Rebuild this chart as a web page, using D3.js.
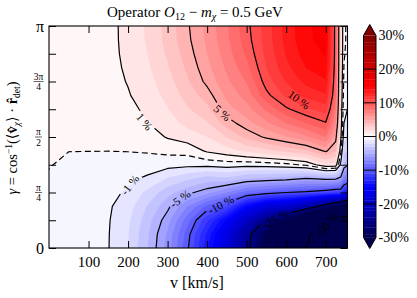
<!DOCTYPE html>
<html><head><meta charset="utf-8">
<script src="https://cdn.jsdelivr.net/npm/d3@7"></script>
<style>
body{margin:0;background:#fff}
text{font-family:"Liberation Serif","DejaVu Serif",serif;fill:#000}
</style></head>
<body><svg id="c" width="417" height="298"></svg>
<script>
// ---------------- data (percent modulation) ----------------
const vGrid = [0,50,100,150,200,250,300,350,400,450,500,550,600,650,700,725,738,746,755];
const gammaOverPi = [0,0.0625,0.125,0.1875,0.25,0.3125,0.375,0.4375,0.5,0.5625,0.625,0.6875,0.75,0.8125,0.875,0.9375,1];
// each column: values from gamma=0 (bottom) to gamma=pi (top)
const pct_v0   = [-0.3,-0.3,-0.29,-0.26,-0.21,-0.08,0.04,0.1,0.14,0.18,0.22,0.25,0.27,0.29,0.3,0.3,0.3];
const pct_v50  = [-0.45,-0.45,-0.44,-0.42,-0.38,-0.31,-0.15,0.01,0.1,0.18,0.26,0.32,0.37,0.41,0.44,0.45,0.45];
const pct_v100 = [-0.65,-0.65,-0.63,-0.6,-0.54,-0.45,-0.28,0.01,0.14,0.26,0.36,0.44,0.51,0.56,0.6,0.62,0.62];
const pct_v150 = [-0.96,-0.95,-0.92,-0.86,-0.77,-0.63,-0.4,0.01,0.2,0.36,0.49,0.59,0.67,0.73,0.77,0.79,0.8];
const pct_v200 = [-2.0,-1.95,-1.8,-1.55,-1.12,-0.82,-0.45,0.03,0.3,0.55,0.75,0.93,1.05,1.13,1.18,1.2,1.2];
const pct_v250 = [-4.0,-3.9,-3.6,-3.1,-2.3,-1.15,-0.6,0.12,0.55,0.98,1.2,1.45,1.67,1.86,2.02,2.14,2.2];
const pct_v300 = [-6.4,-6.2,-5.6,-4.7,-3.6,-2.1,-0.6,0.25,1.08,1.55,1.95,2.3,2.6,2.9,3.15,3.33,3.4];
const pct_v350 = [-9.8,-9.5,-8.6,-7.0,-4.7,-2.8,-0.7,0.35,1.5,2.3,2.9,3.4,3.85,4.2,4.5,4.75,4.85];
const pct_v400 = [-13.7,-13.3,-11.8,-9.3,-5.6,-3.5,-0.65,1.15,2.0,2.9,3.7,4.5,5.3,5.7,6.0,6.2,6.3];
const pct_v450 = [-18.4,-17.4,-15.2,-11.0,-7.0,-3.2,-0.5,1.6,3.05,4.5,5.6,6.3,6.8,7.2,7.55,7.8,7.9];
const pct_v500 = [-23.9,-23.5,-20.0,-15.0,-8.6,-4.0,-0.6,2.2,4.3,5.6,6.6,7.4,8.1,8.7,9.2,9.55,9.7];
const pct_v550 = [-31.2,-30.0,-25.5,-18.0,-9.3,-4.3,-0.5,2.7,5.2,6.8,8.2,9.7,10.5,11.0,11.3,11.45,11.5];
const pct_v600 = [-40,-38,-30,-19,-10,-4.5,-0.3,3.3,5.9,8.0,9.8,11.2,12.1,12.7,13.1,13.35,13.4];
const pct_v650 = [-50,-47,-38,-22,-10.3,-5.1,0.2,3.8,6.8,9.0,10.8,12.3,13.3,14.0,14.5,14.75,14.8];
const pct_v700 = [-62,-59,-48,-27,-11,-4.7,1.8,5.2,8.0,9.9,11.5,12.9,13.9,14.6,15.1,15.4,15.5];
const pct_v725 = [-68,-64,-52,-30,-11.5,-4.8,1.6,4.0,5.5,7.0,8.0,8.7,9.0,9.2,9.3,9.3,9.3];
const pct_v738 = [-72,-67,-54,-31,-11.5,-5.5,-1.3,0.3,1.2,1.6,1.8,2.0,2.1,2.2,2.2,2.2,2.2];
const pct_v746 = [-75,-70,-56,-33,-13,-7.5,-4.2,-2.6,-1.6,-1.0,-0.7,-0.45,-0.25,-0.05,0.1,0.2,0.2];
const pct_v755 = [-76,-71,-57,-34,-14,-8,-4.8,-3.0,-2.0,-1.4,-1.0,-0.7,-0.5,-0.35,-0.25,-0.2,-0.2];
const columns = [pct_v0,pct_v50,pct_v100,pct_v150,pct_v200,pct_v250,pct_v300,pct_v350,pct_v400,
  pct_v450,pct_v500,pct_v550,pct_v600,pct_v650,pct_v700,pct_v725,pct_v738,pct_v746,pct_v755];

const lineLevels = [-50,-25,-10,-5,-1,0,1,5,10];
const contourLabels = [
  {text:"1 %",  v:241, g:0.568, rot:50},
  {text:"5 %",  v:438, g:0.608, rot:42},
  {text:"10 %", v:632, g:0.667, rot:36},
  {text:"-1 %", v:205, g:0.284, rot:-52},
  {text:"-5 %", v:332, g:0.221, rot:-36},
  {text:"-10 %",v:435, g:0.194, rot:-28},
  {text:"-25 %",v:574, g:0.131, rot:-30},
  {text:"-50 %",v:703, g:0.104, rot:-50}
];
const xTicks = [100,200,300,400,500,600,700];
const yTicksOverPi = [0,0.125,0.25,0.375,0.5,0.625,0.75,0.875,1];
const yLabels = [{g:0,num:"0"},{g:0.25,num:"π",den:"4"},{g:0.5,num:"π",den:"2"},{g:0.75,num:"3π",den:"4"},{g:1,num:"π"}];
const cbTicks = [-30,-20,-10,0,10,20,30];
const cbTickLabels = ["-30%","-20%","-10%","0%","10%","20%","30%"];

// ---------------- layout ----------------
const L=49, R=347.5, T=26, B=248;
const svg = d3.select("#c");
const x = d3.scaleLinear().domain([0,755]).range([L,R]);
const y = d3.scaleLinear().domain([0,Math.PI]).range([B,T]);
const seismic = d3.scaleLinear().domain([0,0.25,0.5,0.75,1])
  .range(["rgb(0,0,77)","rgb(0,0,255)","rgb(255,255,255)","rgb(255,0,0)","rgb(128,0,0)"]).clamp(true);
const vmin=-30, vmax=30;
const bandColor = t => seismic(((t+0.5)-vmin)/(vmax-vmin));

const n = vGrid.length, m = gammaOverPi.length;
const values = new Array(n*m);
for (let j=0;j<m;j++) for (let i=0;i<n;i++) values[j*n+i] = columns[i][j];
const idxX = d3.scaleLinear().domain(d3.range(n)).range(vGrid).clamp(true);
const idxY = d3.scaleLinear().domain(d3.range(m)).range(gammaOverPi.map(g=>g*Math.PI)).clamp(true);
const PX = c => x(idxX(c-0.5));
const PY = c => y(idxY(c-0.5));

svg.append("clipPath").attr("id","plotclip").append("rect")
  .attr("x",L).attr("y",T).attr("width",R-L).attr("height",B-T);

// ---------------- filled contours ----------------
const fillLevels = [-1e9].concat(d3.range(vmin, vmax+1, 1));
const proj = d3.geoTransform({point:function(a,b){this.stream.point(PX(a),PY(b));}});
const path = d3.geoPath(proj);
const contourGen = d3.contours().size([n,m]);
const gFill = svg.append("g").attr("clip-path","url(#plotclip)");
fillLevels.forEach(t=>{
  const c = contourGen.contour(values, t);
  let col;
  if (t < vmin) col = seismic(0); else if (t >= vmax) col = seismic(1); else col = bandColor(t);
  gFill.append("path").attr("d", path(c)).attr("fill", col).attr("stroke","none");
});

// ---------------- contour lines ----------------
const eps=1e-6;
const isB = p => p[0] <= 0.5+eps || p[0] >= n-0.5-eps || p[1] <= 0.5+eps || p[1] >= m-0.5-eps;
function linePath(level){
  const c = contourGen.contour(values, level);
  let d="";
  c.coordinates.forEach(poly=>poly.forEach(ring=>{
    let pen=false;
    for (let k=0;k<ring.length-1;k++){
      const a=ring[k], b=ring[k+1];
      if (isB(a)&&isB(b)){pen=false;continue;}
      if(!pen){d+="M"+PX(a[0]).toFixed(2)+","+PY(a[1]).toFixed(2);pen=true;}
      d+="L"+PX(b[0]).toFixed(2)+","+PY(b[1]).toFixed(2);
    }
  }));
  return d;
}
const mask = svg.append("mask").attr("id","lblmask");
mask.append("rect").attr("x",0).attr("y",0).attr("width",417).attr("height",298).attr("fill","#fff");
const gLines = svg.append("g").attr("clip-path","url(#plotclip)").append("g").attr("mask","url(#lblmask)");
lineLevels.forEach(lv=>{
  gLines.append("path").attr("d",linePath(lv)).attr("fill","none").attr("stroke","#000")
    .attr("stroke-width",1.2).attr("stroke-linejoin","round").attr("stroke-dasharray", lv===0?"6,3.5":null);
});

// labels
const gLbl = svg.append("g");
contourLabels.forEach(lb=>{
  const cx=x(lb.v), cy=y(lb.g*Math.PI);
  const t = gLbl.append("text").attr("transform",`translate(${cx},${cy}) rotate(${lb.rot})`)
    .attr("text-anchor","middle").attr("dy","0.33em").attr("font-size",11.5).text(lb.text);
  const bb = t.node().getBBox();
  mask.append("rect").attr("transform",`translate(${cx},${cy}) rotate(${lb.rot})`)
    .attr("x",bb.x-2).attr("y",bb.y).attr("width",bb.width+4).attr("height",bb.height).attr("fill","#000");
});

// ---------------- frame & ticks ----------------
const tickLen=7;
function styleAxis(g){g.select(".domain").remove();g.selectAll(".tick line").attr("stroke","#000").attr("stroke-width",1);}
svg.append("g").attr("transform",`translate(0,${B})`)
  .call(d3.axisBottom(x).tickValues(xTicks).tickSizeInner(-tickLen).tickSizeOuter(0).tickPadding(8))
  .call(styleAxis).call(g=>g.selectAll("text").attr("font-size",15).attr("font-family","Liberation Serif"));
svg.append("g").attr("transform",`translate(0,${T})`)
  .call(d3.axisTop(x).tickValues(xTicks).tickSizeInner(-tickLen).tickSizeOuter(0).tickFormat(""))
  .call(styleAxis);
const yTickVals = yTicksOverPi.map(g=>g*Math.PI);
svg.append("g").attr("transform",`translate(${L},0)`)
  .call(d3.axisLeft(y).tickValues(yTickVals).tickSizeInner(-tickLen).tickSizeOuter(0).tickFormat(""))
  .call(styleAxis);
svg.append("g").attr("transform",`translate(${R},0)`)
  .call(d3.axisRight(y).tickValues(yTickVals).tickSizeInner(-tickLen).tickSizeOuter(0).tickFormat(""))
  .call(styleAxis);
svg.append("rect").attr("x",L).attr("y",T).attr("width",R-L).attr("height",B-T)
  .attr("fill","none").attr("stroke","#000").attr("stroke-width",1.1);

// y tick labels
const gy = svg.append("g");
yLabels.forEach(d=>{
  const yy = y(d.g*Math.PI);
  if(!d.den){
    gy.append("text").attr("x",40).attr("y",yy).attr("dy","0.35em").attr("text-anchor","middle")
      .attr("font-size",16).text(d.num);
  } else {
    gy.append("text").attr("x",38.5).attr("y",yy-2).attr("text-anchor","middle").attr("font-size",9.5).text(d.num);
    gy.append("line").attr("x1",d.num.length>1?33.5:35).attr("x2",d.num.length>1?43.5:42).attr("y1",yy).attr("y2",yy)
      .attr("stroke","#000").attr("stroke-width",0.6);
    gy.append("text").attr("x",38.5).attr("y",yy+8.5).attr("text-anchor","middle").attr("font-size",9.5).text(d.den);
  }
});

// axis titles
svg.append("text").attr("x",197).attr("y",288).attr("text-anchor","middle").attr("font-size",16).text("v [km/s]");
const yl = svg.append("text").attr("transform","translate(17,138) rotate(-90)").attr("text-anchor","middle").attr("font-size",14.5);
yl.append("tspan").attr("font-style","italic").text("γ");
yl.append("tspan").text(" = cos");
yl.append("tspan").attr("font-size",9.5).attr("dy",-5).text("−1");
yl.append("tspan").attr("dy",5).text("(⟨");
yl.append("tspan").attr("font-weight","bold").text("v̂");
yl.append("tspan").attr("font-size",9.5).attr("dy",3).attr("font-style","italic").text("χ");
yl.append("tspan").attr("dy",-3).text("⟩ · ");
yl.append("tspan").attr("font-weight","bold").text("r̂");
yl.append("tspan").attr("font-size",9.5).attr("dy",3).text("det");
yl.append("tspan").attr("dy",-3).text(")");

const tt = svg.append("text").attr("x",195).attr("y",17).attr("text-anchor","middle").attr("font-size",15);
tt.append("tspan").text("Operator ");
tt.append("tspan").attr("font-style","italic").text("O");
tt.append("tspan").attr("font-size",10).attr("dy",3).text("12");
tt.append("tspan").attr("dy",-3).text(" − ");
tt.append("tspan").attr("font-style","italic").text("m");
tt.append("tspan").attr("font-size",10).attr("dy",3).attr("font-style","italic").text("χ");
tt.append("tspan").attr("dy",-3).text(" = 0.5 GeV");

// ---------------- colorbar ----------------
const cbL=363.5, cbR=376, cbTop=35.5, cbBot=237.5, tri=11;
const cb = d3.scaleLinear().domain([vmin,vmax]).range([cbBot,cbTop]);
const gcb = svg.append("g");
d3.range(vmin, vmax, 1).forEach(t=>{
  gcb.append("rect").attr("x",cbL).attr("width",cbR-cbL).attr("y",cb(t+1)).attr("height",cb(t)-cb(t+1)+0.3)
    .attr("fill",bandColor(t));
});
const mid=(cbL+cbR)/2;
gcb.append("path").attr("d",`M${cbL},${cbTop}L${mid},${cbTop-tri}L${cbR},${cbTop}Z`).attr("fill",seismic(1));
gcb.append("path").attr("d",`M${cbL},${cbBot}L${mid},${cbBot+tri}L${cbR},${cbBot}Z`).attr("fill",seismic(0));
cbTicks.forEach((t,i)=>{
  if(t>vmin && t<vmax) gcb.append("line").attr("x1",cbL).attr("x2",cbR).attr("y1",cb(t)).attr("y2",cb(t)).attr("stroke","#000").attr("stroke-width",1);
  gcb.append("text").attr("x",cbR+2.5).attr("y",cb(t)).attr("dy","0.35em").attr("font-size",14).text(cbTickLabels[i]);
});
gcb.append("path").attr("d",`M${cbL},${cbTop}L${mid},${cbTop-tri}L${cbR},${cbTop}L${cbR},${cbBot}L${mid},${cbBot+tri}L${cbL},${cbBot}Z`)
  .attr("fill","none").attr("stroke","#000").attr("stroke-width",1);
</script></body></html>
